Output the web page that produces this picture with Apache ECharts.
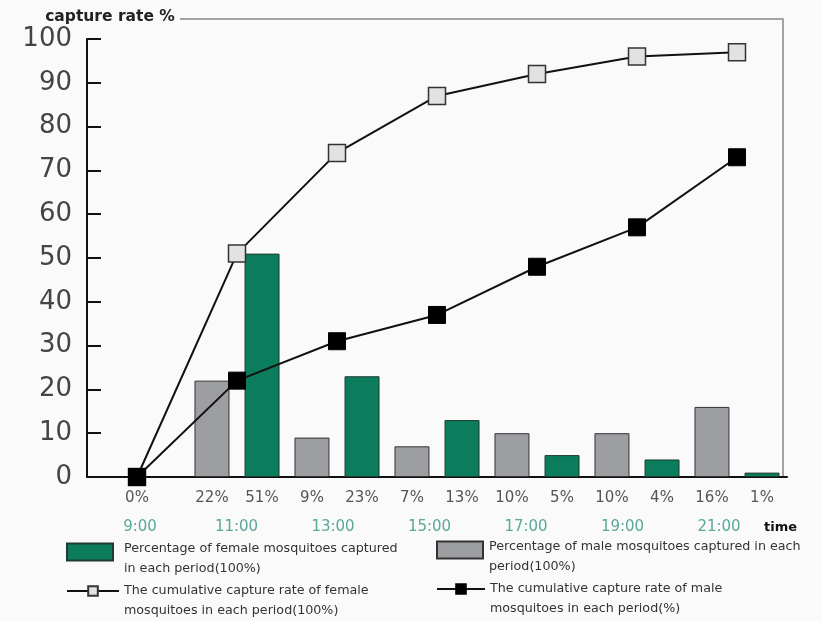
<!DOCTYPE html>
<html><head><meta charset="utf-8">
<script src="https://cdn.jsdelivr.net/npm/echarts@6/dist/echarts.min.js"></script>
<style>html,body{margin:0;padding:0;background:#fafafa}#c{width:822px;height:621px}</style>
</head><body><div id="c"></div>
<script>
const times = ['9:00','11:00','13:00','15:00','17:00','19:00','21:00'];
const malePct = [null,22,9,7,10,10,16];
const femalePct = [null,51,23,13,5,4,1];
const femaleCum = [0,51,74,87,92,96,97];
const maleCum = [0,22,31,37,48,57,73];
const yMin = 0, yMax = 100, yStep = 10;
const names = {
  fBar: 'Percentage of female mosquitoes captured\nin each period(100%)',
  mBar: 'Percentage of male mosquitoes captured in each\nperiod(100%)',
  fLine: 'The cumulative capture rate of female\nmosquitoes in each period(100%)',
  mLine: 'The cumulative capture rate of male\nmosquitoes in each period(%)'
};
const FONT = 'DejaVu Sans';
const chart = echarts.init(document.getElementById('c'));
function legendBase(name, left, top, w, h, spacer, padL, icon){
  const o = {data:[name], left:left, top:top, itemWidth:w, itemHeight:h, padding:0, selectedMode:false,
    formatter:function(n){ return '{s| }\n' + n.split('\n').map(function(l){return '{a|'+l+'}';}).join('\n'); },
    textStyle:{rich:{
      s:{fontSize:8, lineHeight:spacer},
      a:{fontFamily:FONT, fontSize:12.7, color:'#333', lineHeight:20, padding:[0,0,0,padL]}
    }}};
  if (icon) o.icon = icon;
  return o;
}
chart.setOption({
  backgroundColor:'#fafafa',
  animation:false,
  grid:[
    {left:87, right:35, top:39, bottom:144},
    {left:91.75, right:54.75, top:39, bottom:144}
  ],
  xAxis:[
    {type:'category', data:times, boundaryGap:true, gridIndex:0,
      axisLine:{lineStyle:{color:'#111', width:2}}, axisTick:{show:false},
      axisLabel:{interval:0, margin:9,
        formatter:function(v, i){
          if (malePct[i]==null && femalePct[i]==null) return '{p|0%}';
          return '{p|'+malePct[i]+'%}{p|'+femalePct[i]+'%}';
        },
        rich:{ p:{width:50, align:'center', fontFamily:FONT, fontSize:15, color:'#555', lineHeight:24} }}
    },
    {type:'category', data:times, boundaryGap:true, gridIndex:1,
      axisLine:{show:false}, axisTick:{show:false},
      axisLabel:{interval:0, margin:40, fontFamily:FONT, fontSize:15, color:'#5aa898', lineHeight:20}
    }
  ],
  yAxis:[
    {type:'value', min:yMin, max:yMax, interval:yStep, gridIndex:0,
      name:'capture rate %', nameLocation:'end', nameGap:14,
      nameTextStyle:{fontFamily:FONT, fontWeight:'bold', fontSize:15.5, color:'#222', padding:[0,0,0,46]},
      axisLine:{show:true, lineStyle:{color:'#111', width:2}},
      axisTick:{show:true, inside:true, length:14, lineStyle:{color:'#111', width:2}},
      splitLine:{show:false},
      axisLabel:{fontFamily:FONT, fontSize:26, color:'#444', margin:15}
    },
    {type:'value', min:yMin, max:yMax, gridIndex:1, show:false}
  ],
  legend:[
    legendBase(names.fBar, 66, 528, 46, 17, 13, 6, 'rect'),
    legendBase(names.mBar, 436, 526, 46, 17, 13, 1, 'rect'),
    legendBase(names.fLine, 66, 567, 52, 12, 20, 0),
    legendBase(names.mLine, 436, 565, 48, 12, 20, 0)
  ],
  graphic:[
    {type:'polyline', shape:{points:[[180,19],[783,19],[783,477]]}, style:{stroke:'#888', lineWidth:1.5, fill:null}, silent:true},
    {type:'text', left:764, top:521, style:{text:'time', fontFamily:FONT, fontWeight:'bold', fontSize:13, fill:'#111'}, silent:true}
  ],
  series:[
    {name:names.mBar, type:'bar', data:malePct, barWidth:35, barGap:'43%',
      itemStyle:{color:'#9d9ea1', borderColor:'#333', borderWidth:1}},
    {name:names.fBar, type:'bar', data:femalePct, barWidth:35,
      itemStyle:{color:'#0c7d5c', borderColor:'#1f3a30', borderWidth:1}},
    {name:names.fLine, type:'line', data:femaleCum, symbol:'rect', symbolSize:17, z:3,
      lineStyle:{color:'#111', width:2}, itemStyle:{color:'#e2e2e2', borderColor:'#333', borderWidth:1.5}},
    {name:names.mLine, type:'line', data:maleCum, symbol:'rect', symbolSize:17, z:4,
      lineStyle:{color:'#111', width:2}, itemStyle:{color:'#000', borderColor:'#000', borderWidth:1}}
  ]
});
</script></body></html>
